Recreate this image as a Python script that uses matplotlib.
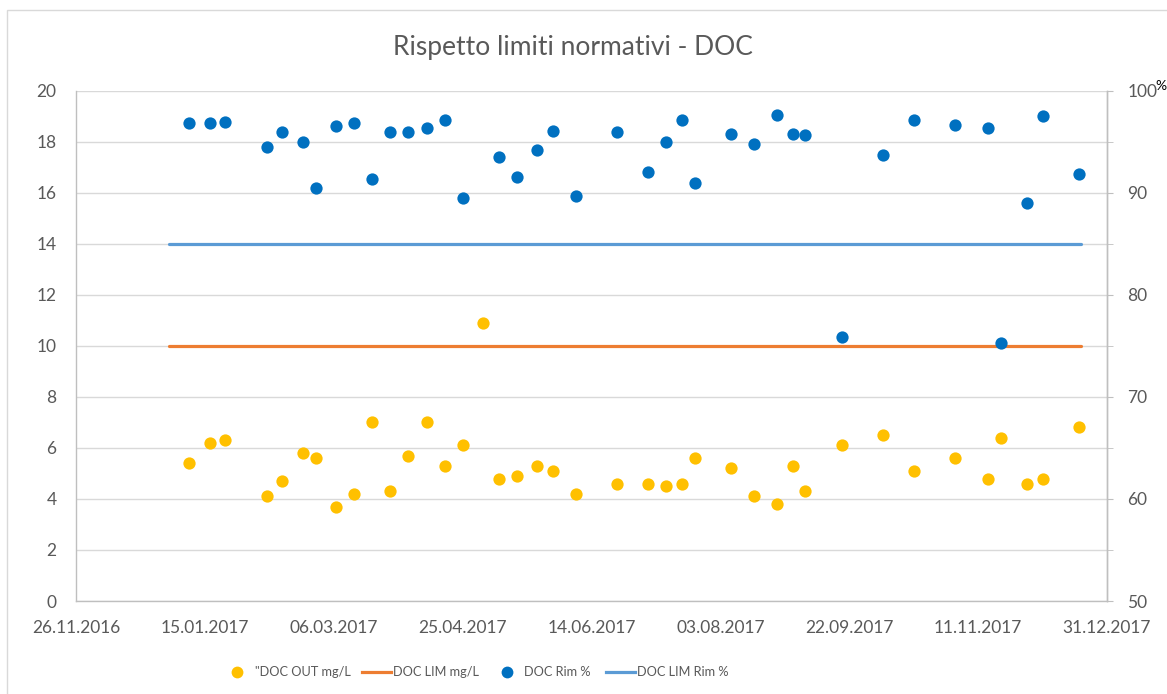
import matplotlib
matplotlib.use("Agg")
import matplotlib.pyplot as plt
import matplotlib.dates as mdates
from matplotlib.lines import Line2D
from matplotlib.patches import Rectangle
import numpy as np
import pandas as pd

# ---------------- data ----------------
sample_dates = [
    "2017-01-09", "2017-01-17", "2017-01-23", "2017-02-08", "2017-02-14",
    "2017-02-22", "2017-02-27", "2017-03-07", "2017-03-14", "2017-03-21",
    "2017-03-28", "2017-04-04", "2017-04-11", "2017-04-18", "2017-04-25",
    "2017-05-03", "2017-05-09", "2017-05-16", "2017-05-24", "2017-05-30",
    "2017-06-08", "2017-06-24", "2017-07-06", "2017-07-13", "2017-07-19",
    "2017-07-24", "2017-08-07", "2017-08-16", "2017-08-25", "2017-08-31",
    "2017-09-05", "2017-09-19", "2017-10-05", "2017-10-17", "2017-11-02",
    "2017-11-15", "2017-11-20", "2017-11-30", "2017-12-06", "2017-12-20",
]
doc_out_mg_l = [
    5.4, 6.2, 6.3, 4.1, 4.7, 5.8, 5.6, 3.7, 4.2, 7.0,
    4.3, 5.7, 7.0, 5.3, 6.1, 10.9, 4.8, 4.9, 5.3, 5.1,
    4.2, 4.6, 4.6, 4.5, 4.6, 5.6, 5.2, 4.1, 3.8, 5.3,
    4.3, 6.1, 6.5, 5.1, 5.6, 4.8, 6.4, 4.6, 4.8, 6.8,
]
doc_rim_pct = [
    96.8, 96.8, 96.9, 94.5, 96.0, 95.0, 90.5, 96.5, 96.8, 91.3,
    96.0, 96.0, 96.3, 97.1, 89.5, np.nan, 93.5, 91.5, 94.2, 96.1,
    89.7, 96.0, 92.0, 95.0, 97.1, 91.0, 95.8, 94.8, 97.6, 95.8,
    95.7, 75.9, 93.7, 97.1, 96.6, 96.3, 75.3, 89.0, 97.5, 91.8,
]
limit_dates = ["2017-01-01", "2017-12-21"]
doc_lim_mg_l = [10, 10]
doc_lim_rim_pct = [85, 85]

x_tick_dates = ["2016-11-26", "2017-01-15", "2017-03-06", "2017-04-25", "2017-06-14",
                "2017-08-03", "2017-09-22", "2017-11-11", "2017-12-31"]
left_ticks = [0, 2, 4, 6, 8, 10, 12, 14, 16, 18, 20]
right_ticks = [50, 60, 70, 80, 90, 100]

title = "Rispetto limiti normativi - DOC"
labels = ['"DOC OUT mg/L', "DOC LIM mg/L", "DOC Rim %", "DOC LIM Rim %"]

# ---------------- style ----------------
YELLOW = "#FFC000"
ORANGE = "#ED7D31"
BLUE = "#0070C0"
LBLUE = "#5B9BD5"
GRID = "#D9D9D9"
TXT = "#595959"

plt.rcParams["font.family"] = ["Lato", "DejaVu Sans"]

W, H = 1167, 694
fig = plt.figure(figsize=(W / 100, H / 100), dpi=100)

# chart border
fig.patches.append(Rectangle((7 / W, -0.1), 1.2, (H - 10) / H + 0.1, transform=fig.transFigure,
                             fill=False, edgecolor="#D9D9D9", linewidth=1.0))

L, R, T, B = 76, 1107, 90.7, 601
ax = fig.add_axes([L / W, (H - B) / H, (R - L) / W, (B - T) / H])
ax2 = ax.twinx()

d = pd.to_datetime(sample_dates)
ld = pd.to_datetime(limit_dates)
xt = pd.to_datetime(x_tick_dates)

ax.scatter(d, doc_out_mg_l, s=78, color=YELLOW, zorder=3, linewidths=0)
ax.plot(ld, doc_lim_mg_l, color=ORANGE, lw=2.3, solid_capstyle="round", zorder=2)
ax2.scatter(d, doc_rim_pct, s=78, color=BLUE, zorder=3, linewidths=0)
ax2.plot(ld, doc_lim_rim_pct, color=LBLUE, lw=2.3, solid_capstyle="round", zorder=2)

ax.set_xlim(xt[0], xt[-1])
ax.set_xticks(xt)
ax.xaxis.set_major_formatter(mdates.DateFormatter("%d.%m.%Y"))
ax.set_ylim(0, 20)
ax.set_yticks(left_ticks)
ax2.set_ylim(50, 100)
ax2.set_yticks(right_ticks)
ax2.set_yticks([55, 65, 75, 85, 95], minor=True)

ax.grid(axis="y", color=GRID, lw=1.0, zorder=0)
ax.set_axisbelow(True)

for a in (ax, ax2):
    a.spines["top"].set_visible(False)
    for s in ("left", "right", "bottom"):
        a.spines[s].set_color("#BFBFBF")
        a.spines[s].set_linewidth(1.0)
ax2.spines["left"].set_visible(False)
ax2.spines["bottom"].set_visible(False)

ax.tick_params(axis="x", length=0, pad=14, labelsize=12.5, labelcolor=TXT)
ax.tick_params(axis="y", length=0, pad=14, labelsize=12.5, labelcolor=TXT)
ax2.tick_params(axis="y", which="both", length=4.5, color="#BFBFBF", pad=10,
                labelsize=12.5, labelcolor=TXT)

fig.text(1155 / W, (H - 86) / H, "%", color="#000000", fontsize=10, ha="left", va="center")

fig.text(573 / W, (H - 47) / H, title, ha="center", va="center", fontsize=19, color=TXT)

# legend drawn manually at the reference positions (figure pixels)
ly = (H - 672) / H
items = [
    ("marker", YELLOW, 237, None, 255),
    ("line", ORANGE, 362, 391, 393),
    ("marker", BLUE, 507, None, 524),
    ("line", LBLUE, 606, 635, 637),
]
for (kind, col, x0, x1, xt_), lab in zip(items, labels):
    if kind == "marker":
        fig.add_artist(Line2D([x0 / W], [ly], transform=fig.transFigure, ls="none",
                              marker="o", markersize=8.5, color=col, markeredgewidth=0))
    else:
        fig.add_artist(Line2D([x0 / W, x1 / W], [ly, ly], transform=fig.transFigure,
                              color=col, lw=2.3))
    fig.text(xt_ / W, ly, lab, ha="left", va="center", fontsize=9.2, color=TXT)

fig.savefig("out.png", dpi=100)
